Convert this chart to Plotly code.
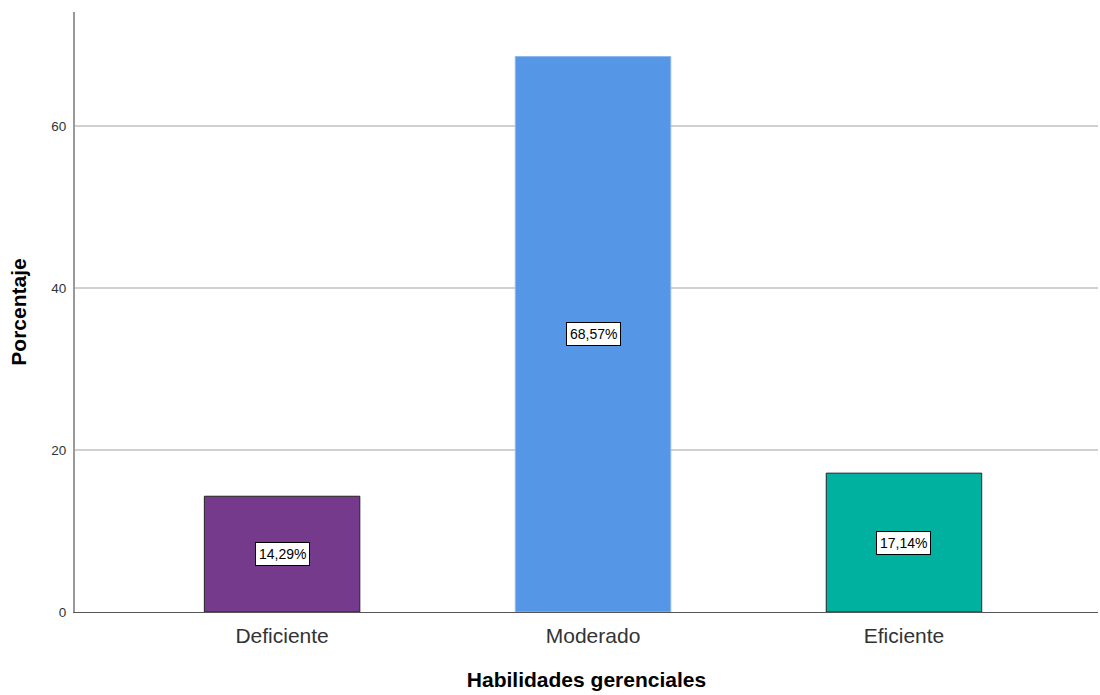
import plotly.graph_objects as go

categories = ["Deficiente", "Moderado", "Eficiente"]
values = [14.29, 68.57, 17.14]
colors = ["#763A8C", "#5596E6", "#00B1A0"]
line_colors = ["#222222", "#8DB8EE", "#222222"]
y_ticks = [0, 20, 40, 60]

labels = [f"{v:.2f}%".replace(".", ",") for v in values]

fig = go.Figure()
fig.add_trace(go.Bar(
    x=list(range(len(categories))),
    y=values,
    width=0.5,
    marker=dict(color=colors, line=dict(color=line_colors, width=1)),
    hoverinfo="skip",
))

for i, (v, lab) in enumerate(zip(values, labels)):
    fig.add_annotation(
        x=i, y=v / 2, text=lab, showarrow=False,
        font=dict(family="Liberation Sans, Arial", size=14, color="#000000"),
        bgcolor="#FFFFFF", bordercolor="#000000", borderwidth=1, borderpad=3,
    )

fig.update_layout(
    width=1100, height=695,
    margin=dict(l=75, r=2, t=12, b=83),
    plot_bgcolor="#FFFFFF", paper_bgcolor="#FFFFFF",
    showlegend=False,
    font=dict(family="Liberation Sans, Arial", color="#222222"),
)
fig.update_xaxes(
    range=[-0.666, 2.624],
    tickmode="array", tickvals=list(range(len(categories))), ticktext=categories,
    tickfont=dict(size=21, color="#333333"),
    showline=True, linecolor="#555555", linewidth=1,
    showgrid=False, zeroline=False,
    ticks="outside", ticklen=5, tickcolor="rgba(0,0,0,0)",
    title=dict(text="<b>Habilidades gerenciales</b>", font=dict(size=21, color="#000000"), standoff=26),
)
fig.update_yaxes(
    range=[0, 74.07],
    tickmode="array", tickvals=y_ticks,
    tickfont=dict(size=13.5, color="#333333"),
    showline=True, linecolor="#999999", linewidth=2,
    showgrid=True, gridcolor="#D0D0D0", gridwidth=2,
    zeroline=False,
    ticks="outside", ticklen=4, tickcolor="rgba(0,0,0,0)",
    title=dict(text="<b>Porcentaje</b>", font=dict(size=21, color="#000000"), standoff=19),
)

fig.write_html("out.html")
